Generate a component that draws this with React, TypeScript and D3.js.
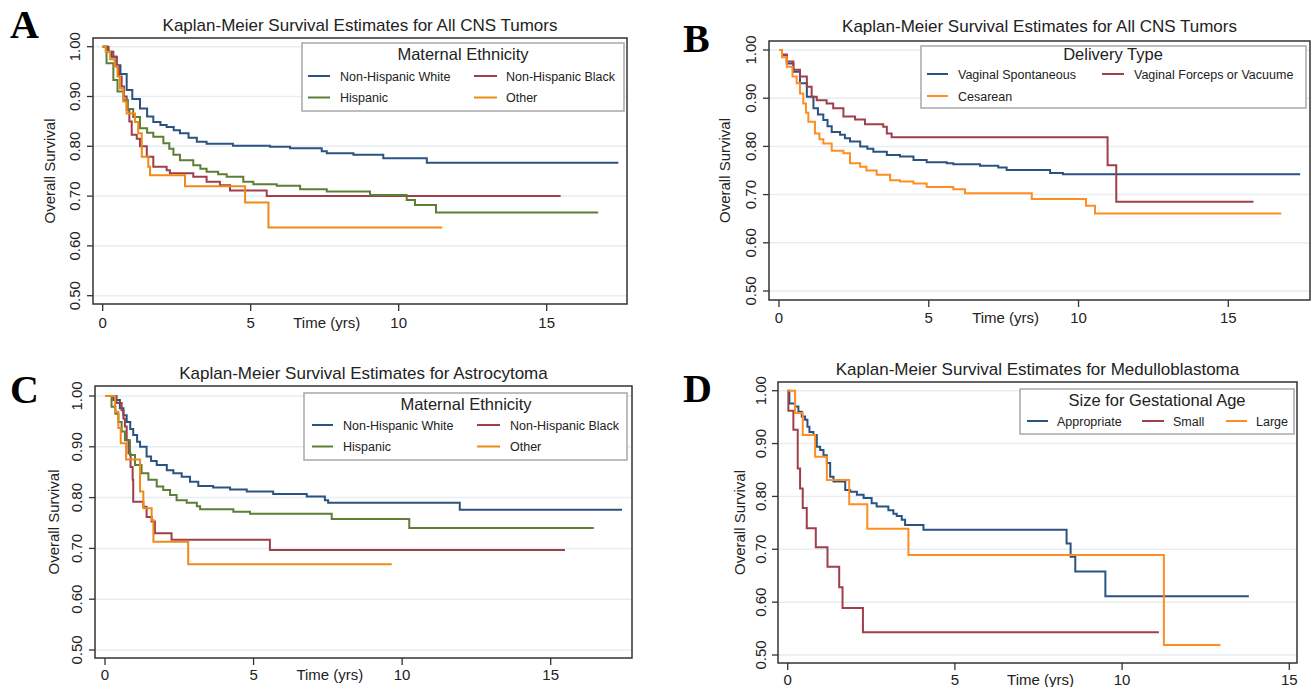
import React from "react";
import * as d3 from "d3";

type Pt = [number, number];

// ---------- DATA ----------
const xTicks = [0, 5, 10, 15];
const yTicks = [0.5, 0.6, 0.7, 0.8, 0.9, 1.0];

const A_white: Pt[] = [[0,1],[0.15,0.99],[0.3,0.98],[0.47,0.963],[0.6,0.945],[0.81,0.913],[1.0,0.895],[1.26,0.876],[1.5,0.86],[1.71,0.849],[1.95,0.843],[2.16,0.839],[2.4,0.832],[2.61,0.826],[2.9,0.817],[3.18,0.809],[3.51,0.805],[4.4,0.801],[5.65,0.799],[6.33,0.796],[7.4,0.79],[7.57,0.786],[8.47,0.783],[9.48,0.776],[10.95,0.767],[17.42,0.767]];
const A_hisp: Pt[] = [[0,1],[0.13,0.967],[0.36,0.933],[0.5,0.91],[0.7,0.893],[0.85,0.875],[1.03,0.859],[1.26,0.836],[1.5,0.827],[1.71,0.819],[2.05,0.806],[2.25,0.795],[2.39,0.783],[2.61,0.772],[3.06,0.762],[3.3,0.755],[3.51,0.749],[3.9,0.744],[4.19,0.739],[4.75,0.729],[5.09,0.724],[5.88,0.721],[6.67,0.714],[7.57,0.709],[9.03,0.702],[10.27,0.692],[10.55,0.682],[11.26,0.667],[16.74,0.667]];
const A_black: Pt[] = [[0,1],[0.2,0.99],[0.36,0.98],[0.47,0.96],[0.55,0.94],[0.64,0.92],[0.72,0.9],[0.81,0.873],[0.9,0.85],[0.98,0.823],[1.15,0.815],[1.26,0.8],[1.49,0.779],[1.71,0.759],[2.16,0.752],[2.27,0.746],[3.06,0.739],[3.51,0.729],[3.96,0.722],[4.3,0.711],[5.54,0.7],[15.47,0.7]];
const A_other: Pt[] = [[0,1],[0.1,0.99],[0.25,0.975],[0.4,0.96],[0.5,0.94],[0.58,0.916],[0.7,0.89],[0.81,0.866],[1.09,0.849],[1.2,0.826],[1.32,0.779],[1.54,0.759],[1.6,0.742],[2.78,0.72],[4.81,0.687],[5.6,0.637],[11.47,0.637]];

const B_vag: Pt[] = [[0,1],[0.1,0.99],[0.26,0.972],[0.48,0.955],[0.7,0.931],[0.93,0.903],[1.15,0.879],[1.3,0.866],[1.48,0.855],[1.62,0.842],[1.76,0.83],[2.04,0.824],[2.2,0.817],[2.37,0.81],[2.71,0.8],[2.95,0.795],[3.15,0.789],[3.6,0.782],[4.04,0.779],[4.49,0.772],[4.93,0.767],[5.6,0.765],[5.82,0.763],[6.71,0.76],[7.32,0.756],[7.6,0.751],[9.05,0.745],[9.48,0.742],[17.4,0.742]];
const B_forceps: Pt[] = [[0,1],[0.1,0.99],[0.26,0.976],[0.48,0.959],[0.7,0.945],[0.93,0.924],[1.09,0.903],[1.26,0.896],[1.59,0.889],[1.81,0.879],[2.15,0.862],[2.54,0.856],[2.87,0.846],[3.48,0.841],[3.6,0.827],[3.76,0.819],[10.97,0.761],[11.26,0.685],[15.84,0.685]];
const B_ces: Pt[] = [[0,1],[0.1,0.985],[0.26,0.965],[0.45,0.945],[0.59,0.931],[0.7,0.91],[0.81,0.889],[0.9,0.87],[0.98,0.851],[1.2,0.827],[1.35,0.815],[1.48,0.806],[1.76,0.791],[2.15,0.786],[2.37,0.765],[2.71,0.758],[2.92,0.75],[3.26,0.741],[3.71,0.73],[4.04,0.727],[4.49,0.723],[4.93,0.716],[5.82,0.711],[6.21,0.703],[8.44,0.691],[10.25,0.677],[10.55,0.661],[16.77,0.661]];

const C_white: Pt[] = [[0,1],[0.28,0.992],[0.5,0.976],[0.62,0.962],[0.73,0.949],[0.85,0.935],[0.95,0.923],[1.08,0.91],[1.18,0.9],[1.4,0.881],[1.55,0.872],[1.74,0.864],[2.08,0.854],[2.3,0.848],[2.58,0.841],[2.86,0.831],[3.14,0.823],[3.64,0.82],[4.21,0.816],[4.77,0.812],[5.66,0.807],[6.79,0.802],[7.4,0.795],[7.51,0.79],[11.94,0.776],[17.4,0.776]];
const C_hisp: Pt[] = [[0,1],[0.22,0.979],[0.35,0.965],[0.45,0.949],[0.56,0.93],[0.67,0.913],[0.84,0.884],[1.01,0.864],[1.23,0.848],[1.46,0.835],[1.74,0.822],[1.96,0.815],[2.19,0.805],[2.41,0.795],[2.75,0.79],[3.09,0.783],[3.2,0.777],[4.32,0.772],[4.88,0.768],[7.63,0.758],[10.24,0.74],[16.45,0.74]];
const C_black: Pt[] = [[0,1],[0.39,0.986],[0.56,0.972],[0.62,0.955],[0.67,0.94],[0.73,0.913],[0.79,0.887],[0.86,0.86],[0.93,0.835],[0.95,0.792],[1.29,0.782],[1.4,0.762],[1.57,0.753],[1.68,0.73],[2.24,0.717],[5.55,0.697],[15.48,0.697]];
const C_other: Pt[] = [[0,1],[0.34,0.969],[0.45,0.937],[0.53,0.907],[0.71,0.875],[1.18,0.812],[1.29,0.779],[1.57,0.756],[1.63,0.713],[2.8,0.669],[9.65,0.669]];

const D_appr: Pt[] = [[0,1],[0.05,0.976],[0.22,0.97],[0.32,0.96],[0.42,0.951],[0.52,0.945],[0.59,0.932],[0.65,0.922],[0.77,0.916],[0.87,0.894],[0.97,0.888],[1.07,0.878],[1.17,0.863],[1.27,0.837],[1.37,0.828],[1.72,0.812],[1.87,0.809],[2.07,0.803],[2.27,0.797],[2.51,0.787],[2.66,0.781],[3.01,0.774],[3.16,0.767],[3.26,0.763],[3.41,0.756],[3.51,0.746],[4.06,0.737],[8.34,0.711],[8.46,0.686],[8.6,0.658],[9.5,0.611],[13.79,0.611]];
const D_small: Pt[] = [[0,1],[0.02,0.962],[0.17,0.926],[0.3,0.853],[0.37,0.815],[0.45,0.778],[0.57,0.74],[0.84,0.704],[1.19,0.667],[1.54,0.628],[1.64,0.589],[2.25,0.543],[11.1,0.543]];
const D_large: Pt[] = [[0,1],[0.22,0.958],[0.45,0.916],[0.82,0.875],[1.17,0.831],[1.84,0.785],[2.38,0.739],[3.61,0.689],[11.25,0.519],[12.94,0.519]];

// ---------- STYLE ----------
const NAVY = "#2a5382";
const MAROON = "#9e3f4a";
const GREEN = "#5c7e36";
const ORANGE_A = "#ef8a17";
const ORANGE_B = "#ff8d22";
const FONT = "'Liberation Sans', Arial, sans-serif";

interface LegendItem { label: string; color: string; lx1: number; lx2: number; ly: number; tx: number; }
interface PanelCfg {
  letter: string; lx: number; ly: number;
  title: string; titleY: number;
  frame: { l: number; t: number; r: number; b: number };
  x0: number; x15: number; y1: number; y05: number;
  tickLabelDx: number; yTitleDx: number; xLabelY: number;
  series: { data: Pt[]; color: string }[];
  legend: { box: [number, number, number, number]; title: string; tcx: number; ty: number; items: LegendItem[] };
}

const panels: PanelCfg[] = [
  {
    letter: "A", lx: 10, ly: 38,
    title: "Kaplan-Meier Survival Estimates for All CNS Tumors", titleY: 31,
    frame: { l: 93, t: 38, r: 627, b: 304 },
    x0: 102.7, x15: 546.7, y1: 46.7, y05: 295.7,
    tickLabelDx: 13, yTitleDx: 38, xLabelY: 328,
    series: [
      { data: A_white, color: NAVY },
      { data: A_black, color: MAROON },
      { data: A_hisp, color: GREEN },
      { data: A_other, color: ORANGE_A },
    ],
    legend: {
      box: [302, 43, 322, 68], title: "Maternal Ethnicity", tcx: 463, ty: 60,
      items: [
        { label: "Non-Hispanic White", color: NAVY, lx1: 308, lx2: 330, ly: 76, tx: 340 },
        { label: "Non-Hispanic Black", color: MAROON, lx1: 474, lx2: 497, ly: 76, tx: 506 },
        { label: "Hispanic", color: GREEN, lx1: 308, lx2: 330, ly: 97.5, tx: 340 },
        { label: "Other", color: ORANGE_A, lx1: 474, lx2: 497, ly: 97.5, tx: 506 },
      ],
    },
  },
  {
    letter: "B", lx: 683, ly: 52,
    title: "Kaplan-Meier Survival Estimates for All CNS Tumors", titleY: 32,
    frame: { l: 769, t: 41, r: 1310, b: 300 },
    x0: 779, x15: 1228.3, y1: 50, y05: 291,
    tickLabelDx: 13, yTitleDx: 39, xLabelY: 323,
    series: [
      { data: B_vag, color: NAVY },
      { data: B_forceps, color: MAROON },
      { data: B_ces, color: ORANGE_B },
    ],
    legend: {
      box: [921, 46, 385, 62], title: "Delivery Type", tcx: 1113, ty: 60,
      items: [
        { label: "Vaginal Spontaneous", color: NAVY, lx1: 927, lx2: 948, ly: 74, tx: 958 },
        { label: "Vaginal Forceps or Vacuume", color: MAROON, lx1: 1102, lx2: 1124, ly: 74, tx: 1134 },
        { label: "Cesarean", color: ORANGE_B, lx1: 927, lx2: 948, ly: 96, tx: 958 },
      ],
    },
  },
  {
    letter: "C", lx: 10, ly: 403,
    title: "Kaplan-Meier Survival Estimates for Astrocytoma", titleY: 379,
    frame: { l: 95, t: 386, r: 632, b: 658 },
    x0: 105, x15: 550.7, y1: 396, y05: 650,
    tickLabelDx: 13, yTitleDx: 36, xLabelY: 680,
    series: [
      { data: C_white, color: NAVY },
      { data: C_black, color: MAROON },
      { data: C_hisp, color: GREEN },
      { data: C_other, color: ORANGE_A },
    ],
    legend: {
      box: [304, 393, 323, 67], title: "Maternal Ethnicity", tcx: 466, ty: 410,
      items: [
        { label: "Non-Hispanic White", color: NAVY, lx1: 312, lx2: 333, ly: 425, tx: 343 },
        { label: "Non-Hispanic Black", color: MAROON, lx1: 477, lx2: 500, ly: 425, tx: 510 },
        { label: "Hispanic", color: GREEN, lx1: 312, lx2: 333, ly: 446.5, tx: 343 },
        { label: "Other", color: ORANGE_A, lx1: 477, lx2: 500, ly: 446.5, tx: 510 },
      ],
    },
  },
  {
    letter: "D", lx: 683, ly: 402,
    title: "Kaplan-Meier Survival Estimates for Medulloblastoma", titleY: 375,
    frame: { l: 778, t: 382, r: 1297, b: 663 },
    x0: 787.7, x15: 1289.3, y1: 390.7, y05: 655,
    tickLabelDx: 12, yTitleDx: 33, xLabelY: 685,
    series: [
      { data: D_appr, color: NAVY },
      { data: D_small, color: MAROON },
      { data: D_large, color: ORANGE_B },
    ],
    legend: {
      box: [1020, 389, 274, 45], title: "Size for Gestational Age", tcx: 1157, ty: 406,
      items: [
        { label: "Appropriate", color: NAVY, lx1: 1027, lx2: 1048, ly: 421, tx: 1057 },
        { label: "Small", color: MAROON, lx1: 1142, lx2: 1164, ly: 421, tx: 1173 },
        { label: "Large", color: ORANGE_B, lx1: 1226, lx2: 1247, ly: 421, tx: 1256 },
      ],
    },
  },
];

function Panel({ p }: { p: PanelCfg }) {
  const x = d3.scaleLinear().domain([0, 15]).range([p.x0, p.x15]);
  const y = d3.scaleLinear().domain([0.5, 1.0]).range([p.y05, p.y1]);
  const line = d3.line<Pt>().x((d) => x(d[0])).y((d) => y(d[1])).curve(d3.curveStepAfter);
  const f = p.frame;
  const lg = p.legend;
  const ylabX = f.l - p.tickLabelDx;
  const ytitX = f.l - p.yTitleDx;
  return (
    <g>
      <text x={p.lx} y={p.ly} fontFamily="'Liberation Serif', 'Times New Roman', serif" fontWeight="bold" fontSize={40} fill="#000">{p.letter}</text>
      <text x={(f.l + f.r) / 2} y={p.titleY} textAnchor="middle" fontFamily={FONT} fontSize={17} fill="#222">{p.title}</text>
      {yTicks.map((t) => (
        <line key={"g" + t} x1={f.l} x2={f.r} y1={y(t)} y2={y(t)} stroke="#e5eef2" strokeWidth={1.5} />
      ))}
      {p.series.map((s, i) => (
        <path key={i} d={line(s.data) || ""} fill="none" stroke={s.color} strokeWidth={2} />
      ))}
      <rect x={f.l} y={f.t} width={f.r - f.l} height={f.b - f.t} fill="none" stroke="#333" strokeWidth={1.5} />
      {yTicks.map((t) => (
        <g key={"y" + t}>
          <line x1={f.l - 6} x2={f.l} y1={y(t)} y2={y(t)} stroke="#333" strokeWidth={1.3} />
          <text transform={`translate(${ylabX},${y(t)}) rotate(-90)`} textAnchor="middle" fontFamily={FONT} fontSize={15} fill="#222">{t.toFixed(2)}</text>
        </g>
      ))}
      <text transform={`translate(${ytitX},${(f.t + f.b) / 2}) rotate(-90)`} textAnchor="middle" fontFamily={FONT} fontSize={15} fill="#222">Overall Survival</text>
      {xTicks.map((t) => (
        <g key={"x" + t}>
          <line x1={x(t)} x2={x(t)} y1={f.b} y2={f.b + 7} stroke="#333" strokeWidth={1.3} />
          <text x={x(t)} y={p.xLabelY} textAnchor="middle" fontFamily={FONT} fontSize={15} fill="#222">{t}</text>
        </g>
      ))}
      <text x={x(7.5) + 2} y={p.xLabelY} textAnchor="middle" fontFamily={FONT} fontSize={15} fill="#222">Time (yrs)</text>
      <rect x={lg.box[0]} y={lg.box[1]} width={lg.box[2]} height={lg.box[3]} fill="#fff" stroke="#a8a8a8" strokeWidth={1.5} />
      <text x={lg.tcx} y={lg.ty} textAnchor="middle" fontFamily={FONT} fontSize={16.5} fill="#222">{lg.title}</text>
      {lg.items.map((it) => (
        <g key={it.label}>
          <line x1={it.lx1} x2={it.lx2} y1={it.ly} y2={it.ly} stroke={it.color} strokeWidth={2} />
          <text x={it.tx} y={it.ly + 4.5} fontFamily={FONT} fontSize={12.5} fill="#222">{it.label}</text>
        </g>
      ))}
    </g>
  );
}

export default function App() {
  return (
    <svg width={1316} height={687} style={{ position: "absolute", left: 0, top: 0, background: "#fff" }}>
      <rect x={0} y={0} width={1316} height={687} fill="#fff" />
      {panels.map((p) => (
        <Panel key={p.letter} p={p} />
      ))}
    </svg>
  );
}
